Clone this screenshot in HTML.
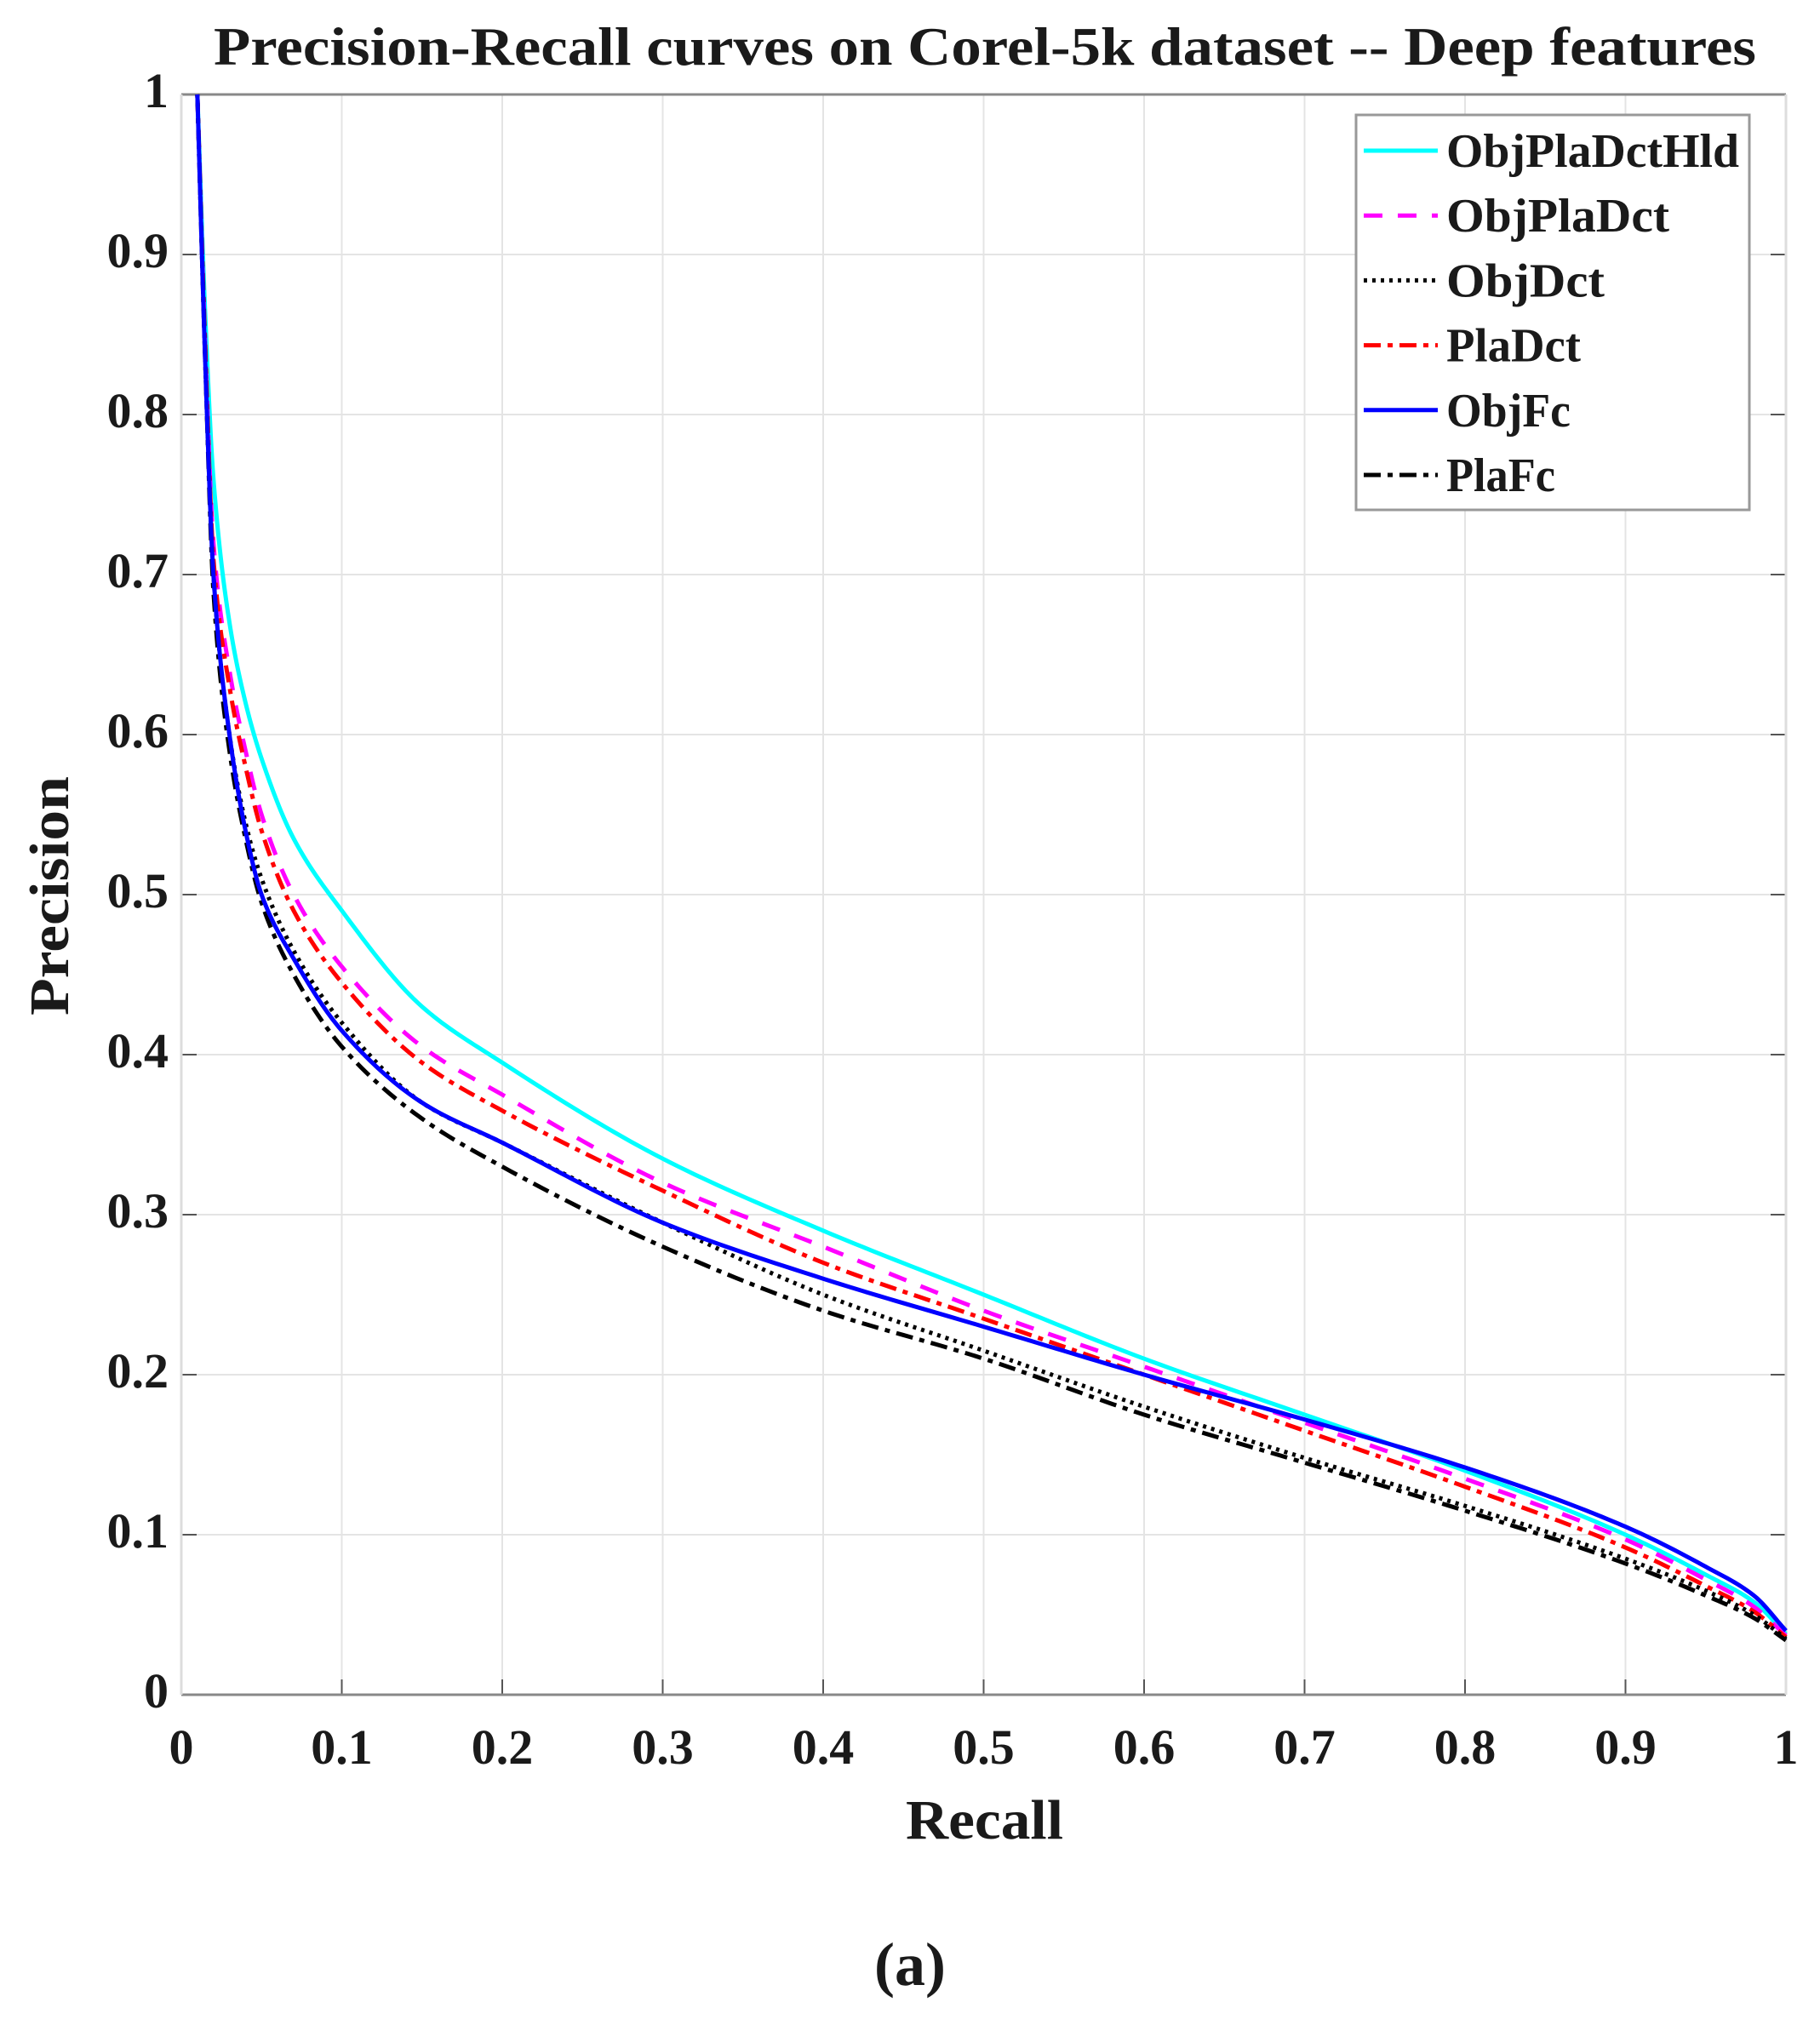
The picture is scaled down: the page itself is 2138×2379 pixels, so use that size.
<!DOCTYPE html>
<html><head><meta charset="utf-8"><style>
html,body{margin:0;padding:0;background:#fff;}
svg{display:block;}
text{font-family:"Liberation Serif",serif;font-weight:bold;fill:#1a1a1a;}
</style></head><body>
<svg id="chart" width="2138" height="2379" viewBox="0 0 2138 2379" xmlns="http://www.w3.org/2000/svg">
<g id="grid"></g>
<g id="axes"></g>
<g id="series"></g>
<text x="251" y="76" font-size="63" textLength="1812" lengthAdjust="spacingAndGlyphs">Precision-Recall curves on Corel-5k dataset -- Deep features</text>
<text x="1064" y="2160" font-size="66" textLength="185" lengthAdjust="spacingAndGlyphs">Recall</text>
<text x="0" y="0" font-size="66" textLength="281" lengthAdjust="spacingAndGlyphs" transform="translate(80,1193) rotate(-90)">Precision</text>
<text x="1069" y="2332" font-size="72" text-anchor="middle">(a)</text>
<g id="legend"></g>
</svg>
<script>
const xTicks=[0,0.1,0.2,0.3,0.4,0.5,0.6,0.7,0.8,0.9,1];
const yTicks=[0,0.1,0.2,0.3,0.4,0.5,0.6,0.7,0.8,0.9,1];
const xTickLabels=["0","0.1","0.2","0.3","0.4","0.5","0.6","0.7","0.8","0.9","1"];
const yTickLabels=["0","0.1","0.2","0.3","0.4","0.5","0.6","0.7","0.8","0.9","1"];
const recall=[0.01,0.015,0.02,0.03,0.04,0.05,0.07,0.1,0.15,0.2,0.3,0.4,0.5,0.6,0.7,0.8,0.9,0.95,0.98,1.0];
const seriesNames=["ObjPlaDctHld","ObjPlaDct","ObjDct","PlaDct","ObjFc","PlaFc"];
const precObjPlaDctHld=[1.0,0.86,0.76,0.67,0.62,0.585,0.535,0.49,0.43,0.395,0.335,0.29,0.25,0.21,0.175,0.14,0.10,0.075,0.058,0.038];
const precObjPlaDct=[1.0,0.84,0.72,0.64,0.59,0.55,0.50,0.455,0.405,0.375,0.32,0.28,0.24,0.205,0.17,0.135,0.097,0.072,0.055,0.037];
const precObjDct=[1.0,0.83,0.70,0.60,0.545,0.51,0.465,0.42,0.37,0.345,0.295,0.25,0.215,0.18,0.148,0.118,0.085,0.065,0.05,0.035];
const precPlaDct=[1.0,0.84,0.71,0.63,0.58,0.54,0.49,0.445,0.395,0.365,0.315,0.27,0.235,0.2,0.165,0.13,0.092,0.068,0.052,0.036];
const precObjFc=[1.0,0.83,0.70,0.60,0.54,0.50,0.46,0.415,0.37,0.345,0.295,0.26,0.23,0.2,0.172,0.142,0.105,0.08,0.062,0.04];
const precPlaFc=[1.0,0.83,0.69,0.59,0.535,0.495,0.45,0.405,0.36,0.33,0.28,0.24,0.21,0.175,0.145,0.115,0.082,0.062,0.048,0.034];

const NS="http://www.w3.org/2000/svg";
const L=213,R=2098,T=111,B=1991;
const sx=v=>L+v*(R-L);
const sy=v=>B-v*(B-T);
function mk(tag,attrs,parent){const e=document.createElementNS(NS,tag);for(const k in attrs)e.setAttribute(k,attrs[k]);parent.appendChild(e);return e;}
const grid=document.getElementById('grid'),axes=document.getElementById('axes'),series=document.getElementById('series'),legend=document.getElementById('legend');
xTicks.forEach((v,i)=>{
  const g=mk('line',{x1:sx(v),x2:sx(v),y1:T,y2:B,stroke:'#e4e4e4','stroke-width':2},grid);
  
  
  const t=mk('line',{x1:sx(v),x2:sx(v),y1:B,y2:B-18,stroke:'#555','stroke-width':2},axes);
  
  
  const lb=mk('text',{x:sx(v),y:2072,'font-size':58,'text-anchor':'middle'},axes);
  lb.textContent=xTickLabels[i];
  
  
});
yTicks.forEach((v,i)=>{
  const g=mk('line',{x1:L,x2:R,y1:sy(v),y2:sy(v),stroke:'#e4e4e4','stroke-width':2},grid);
  
  
  const t=mk('line',{x1:L,x2:L+18,y1:sy(v),y2:sy(v),stroke:'#555','stroke-width':2},axes);
  
  
  const t2=mk('line',{x1:R,x2:R-18,y1:sy(v),y2:sy(v),stroke:'#555','stroke-width':2},axes);
  
  
  const lb=mk('text',{x:198,y:sy(v)+15,'font-size':58,'text-anchor':'end'},axes);
  lb.textContent=yTickLabels[i];
  
  
});
const ax1=mk('line',{x1:L,x2:R,y1:B,y2:B,stroke:'#888','stroke-width':3},axes);


const ax2=mk('line',{x1:L,x2:R,y1:T,y2:T,stroke:'#888','stroke-width':3},axes);


const ax3=mk('line',{x1:L,x2:L,y1:T,y2:B,stroke:'#ddd','stroke-width':3},axes);


const ax4=mk('line',{x1:R,x2:R,y1:T,y2:B,stroke:'#ddd','stroke-width':3},axes);



// monotone cubic (Fritsch-Carlson) in data space, sampled densely
function pathFor(ys){
  const n=recall.length, d=[], m=new Array(n);
  for(let i=0;i<n-1;i++) d.push((ys[i+1]-ys[i])/(recall[i+1]-recall[i]));
  m[0]=d[0]; m[n-1]=d[n-2];
  for(let i=1;i<n-1;i++){
    if(d[i-1]*d[i]<=0) m[i]=0;
    else {const h0=recall[i]-recall[i-1],h1=recall[i+1]-recall[i];const w1=2*h1+h0,w2=h1+2*h0;m[i]=(w1+w2)/(w1/d[i-1]+w2/d[i]);}
  }
  let s='M'+sx(recall[0])+','+sy(ys[0]);
  for(let i=0;i<n-1;i++){
    const h=recall[i+1]-recall[i];
    for(let k=1;k<=20;k++){
      const t=k/20,t2=t*t,t3=t2*t;
      const v=(2*t3-3*t2+1)*ys[i]+(t3-2*t2+t)*h*m[i]+(-2*t3+3*t2)*ys[i+1]+(t3-t2)*h*m[i+1];
      s+=' L'+sx(recall[i]+t*h).toFixed(2)+','+sy(v).toFixed(2);
    }
  }
  return s;
}
const styles=[
 {c:'#00ffff',dash:''},
 {c:'#ff00ff',dash:'22,18'},
 {c:'#000000',dash:'4,6'},
 {c:'#ff0000',dash:'20,8,6,8'},
 {c:'#0000ff',dash:''},
 {c:'#000000',dash:'20,8,6,8'}];
const data=[precObjPlaDctHld,precObjPlaDct,precObjDct,precPlaDct,precObjFc,precPlaFc];
const order=[0,1,3,2,5,4];
order.forEach(i=>{
  const s=styles[i];
  const e=mk('path',{d:pathFor(data[i]),fill:'none',stroke:s.c,'stroke-width':5,'stroke-dasharray':s.dash},series);
  
  
});
const box=mk('rect',{x:1593,y:135,width:462,height:464,fill:'#fff',stroke:'#999','stroke-width':3},legend);


const legendWidths=[344,262,186,158,146,128];
seriesNames.forEach((n,i)=>{
  const y=177+i*76.2;
  const s=styles[i];
  const g=mk('g',{},legend);
  
  
  mk('line',{x1:1602,x2:1689,y1:y,y2:y,stroke:s.c,'stroke-width':5,'stroke-dasharray':s.dash},g);
  const t=mk('text',{x:1699,y:y+19,'font-size':56,textLength:legendWidths[i],lengthAdjust:'spacingAndGlyphs'},g);
  t.textContent=n;
});
</script>
</body></html>
